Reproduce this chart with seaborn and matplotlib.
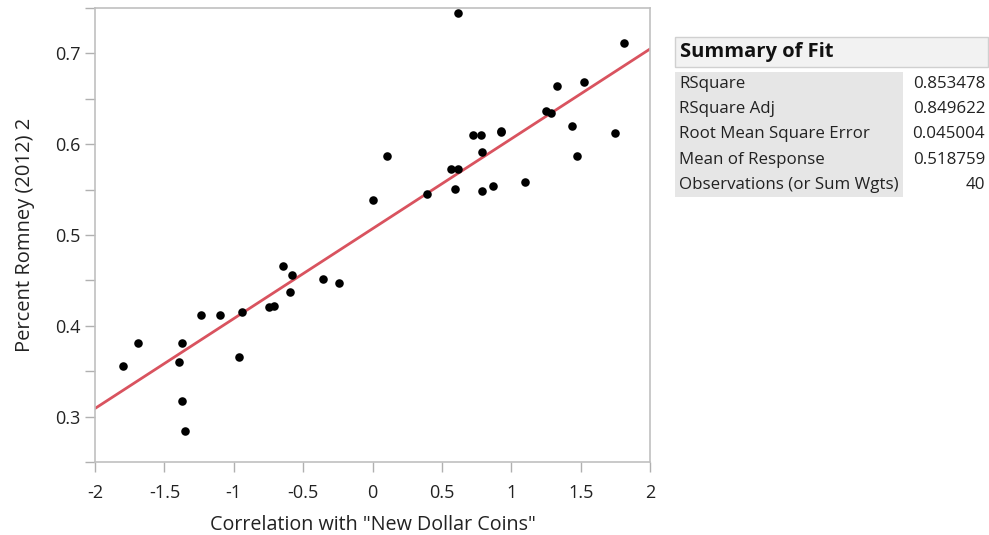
import numpy as np
import pandas as pd
import matplotlib
matplotlib.use('Agg')
import matplotlib.pyplot as plt
import seaborn as sns
from matplotlib.patches import Rectangle


corr_coins = [-1.800, -1.688, -1.375, -1.392, -1.375, -1.351, -1.238, -1.099,
              -0.941, -0.964, -0.744, -0.708, -0.643, -0.580, -0.595, -0.355,
              -0.244, 0.614, 1.813, 1.328, 1.524, 1.248, 1.286, 1.438,
              1.750, 1.476, 0.928, 0.928, 0.727, 0.780, 0.792, 0.107,
              0.566, 0.614, 0.006, 0.391, 0.592, 0.792, 0.866, 1.101]
pct_romney = [0.356, 0.381, 0.381, 0.360, 0.317, 0.284, 0.412, 0.412,
              0.415, 0.366, 0.421, 0.422, 0.466, 0.456, 0.437, 0.452,
              0.447, 0.744, 0.711, 0.664, 0.668, 0.637, 0.634, 0.620,
              0.612, 0.587, 0.615, 0.613, 0.610, 0.610, 0.591, 0.587,
              0.573, 0.573, 0.539, 0.545, 0.551, 0.548, 0.554, 0.558]

fit_labels = ['RSquare', 'RSquare Adj', 'Root Mean Square Error',
              'Mean of Response', 'Observations (or Sum Wgts)']
fit_values = ['0.853478', '0.849622', '0.045004', '0.518759', '40']

df = pd.DataFrame({'x': corr_coins, 'y': pct_romney})

sns.set_style('white')
plt.rcParams['font.family'] = ['Open Sans', 'DejaVu Sans']

fig = plt.figure(figsize=(9.89, 5.35), dpi=100)
ax = fig.add_axes([95 / 989, 73 / 535, 555 / 989, 454 / 535])
ax.set_xlim(-2, 2)
ax.set_ylim(0.25, 0.75)

sns.regplot(data=df, x='x', y='y', ax=ax, ci=None, truncate=False,
            scatter_kws={'s': 38, 'color': 'black', 'alpha': 1,
                         'linewidths': 0, 'zorder': 3},
            line_kws={'color': '#d9535f', 'lw': 2.0, 'zorder': 2})

ax.set_xlim(-2, 2)
ax.set_ylim(0.25, 0.75)
ax.set_xticks(np.arange(-2, 2.01, 0.5))
ax.set_xticklabels(['-2', '-1.5', '-1', '-0.5', '0', '0.5', '1', '1.5', '2'])
ax.set_yticks([0.3, 0.4, 0.5, 0.6, 0.7])
ax.set_yticklabels(['0.3', '0.4', '0.5', '0.6', '0.7'])
ax.set_yticks(np.arange(0.25, 0.751, 0.1), minor=True)
ax.tick_params(axis='both', which='both', direction='out', length=7, width=1,
               color='#b0b0b0', labelsize=13, labelcolor='#222222',
               bottom=True, left=True)
ax.tick_params(axis='x', pad=9)
for sp in ax.spines.values():
    sp.set_color('#c0c0c0')
    sp.set_linewidth(1.2)
ax.set_xlabel('Correlation with "New Dollar Coins"', fontsize=14.2,
              color='#222222', labelpad=9)
ax.set_ylabel('Percent Romney (2012) 2', fontsize=14.5, color='#222222',
              labelpad=14)

# summary of fit table
W, H = 989, 535
fig.patches.append(Rectangle((675 / W, 1 - 67 / H), 313 / W, 30 / H,
                             transform=fig.transFigure, facecolor='#f2f2f2',
                             edgecolor='#d0d0d0', lw=1))
fig.text(680 / W, 1 - 52 / H, 'Summary of Fit', fontsize=14.5, fontweight='bold',
         va='center', ha='left', color='#111111')
fig.patches.append(Rectangle((675 / W, 1 - 197 / H), 228 / W, 125 / H,
                             transform=fig.transFigure, facecolor='#e6e6e6',
                             edgecolor='none'))
for i, (lab, val) in enumerate(zip(fit_labels, fit_values)):
    yy = 1 - (84 + i * 25.2) / H
    fig.text(679 / W, yy, lab, fontsize=12.2, va='center', ha='left', color='#222222')
    fig.text(985 / W, yy, val, fontsize=12.2, va='center', ha='right', color='#222222')

plt.savefig('out.png', dpi=100)
